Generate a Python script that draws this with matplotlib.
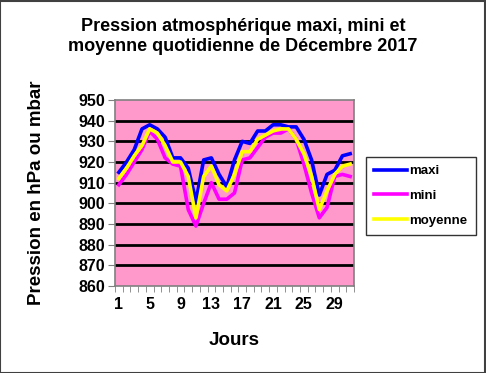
import matplotlib
matplotlib.use("Agg")
import matplotlib.pyplot as plt
import numpy as np
from matplotlib.patches import Rectangle

days = list(range(1, 32))
maxi = [915, 920, 926, 936, 938, 936, 932, 922, 922, 917, 901, 921, 922, 914, 908,
        921, 930, 929, 935, 935, 938, 938, 937, 937, 931, 921, 904, 914, 916, 923, 924]
mini = [909, 914, 920, 926, 935, 931, 922, 919, 918, 897, 889, 900, 910, 902, 902,
        905, 921, 922, 927, 932, 934, 934, 936, 931, 919, 905, 893, 898, 913, 914, 913]
moyenne = [912, 917, 923, 928, 936, 934, 928, 920, 920, 913, 893, 913, 918, 909, 906,
           914, 925, 925, 931, 933, 935, 936, 936, 931, 924, 913, 897, 906, 914, 918, 919]
x_labels = [1, 5, 9, 13, 17, 21, 25, 29]
y_ticks = list(range(860, 951, 10))

plt.rcParams['font.family'] = ['Liberation Sans', 'DejaVu Sans']

fig = plt.figure(figsize=(4.86, 3.73), dpi=100)
fig.patch.set_facecolor('white')
fig.add_artist(Rectangle((0.001, 0.001), 0.997, 0.996, transform=fig.transFigure,
                         fill=False, edgecolor='#404040', linewidth=1.5))

ax = fig.add_axes([0.2366, 0.2332, 0.4918, 0.4987])
ax.set_facecolor('#FF99CC')

for s in ax.spines.values():
    s.set_color('#808080')
    s.set_linewidth(1.2)

ax.plot(days, maxi, color='#0000FF', lw=2.6, label='maxi', zorder=3)
ax.plot(days, mini, color='#FF00FF', lw=2.6, label='mini', zorder=3)
ax.plot(days, moyenne, color='#FFFF00', lw=2.6, label='moyenne', zorder=4)

ax.set_xlim(0.5, 31.5)
ax.set_ylim(860, 950)
ax.set_yticks(y_ticks)
ax.set_yticklabels([str(v) for v in y_ticks], fontsize=11.5, fontweight='bold')
ax.set_xticks(x_labels)
ax.set_xticklabels([str(v) for v in x_labels], fontsize=11.5, fontweight='bold')
ax.set_xticks(np.arange(0.5, 32, 1), minor=True)
ax.tick_params(axis='x', which='major', length=0, pad=8)
ax.tick_params(axis='x', which='minor', length=4, color='#808080', direction='out')
ax.tick_params(axis='y', which='major', length=5, color='#808080', direction='out', pad=2)

for v in y_ticks[1:-1]:
    ax.axhline(v, color='black', lw=2, zorder=2)

ax.set_ylabel('Pression en hPa ou mbar', fontsize=13.5, fontweight='bold', labelpad=24)
ax.set_xlabel('Jours', fontsize=13.5, fontweight='bold', labelpad=14)

fig.text(0.5, 0.902, 'Pression atmosphérique maxi, mini et\nmoyenne quotidienne de Décembre 2017',
         ha='center', va='center', fontsize=13, fontweight='bold', linespacing=1.25)

leg = fig.legend(loc='upper left', bbox_to_anchor=(0.753, 0.579), frameon=True,
                 fancybox=False, edgecolor='black', prop={'size': 9.5, 'weight': 'bold'},
                 handlelength=2.5, handletextpad=0.2, labelspacing=0.95, borderpad=0.6,
                 borderaxespad=0)
leg.get_frame().set_linewidth(1)

fig.savefig('out.png', dpi=100, facecolor='white')
